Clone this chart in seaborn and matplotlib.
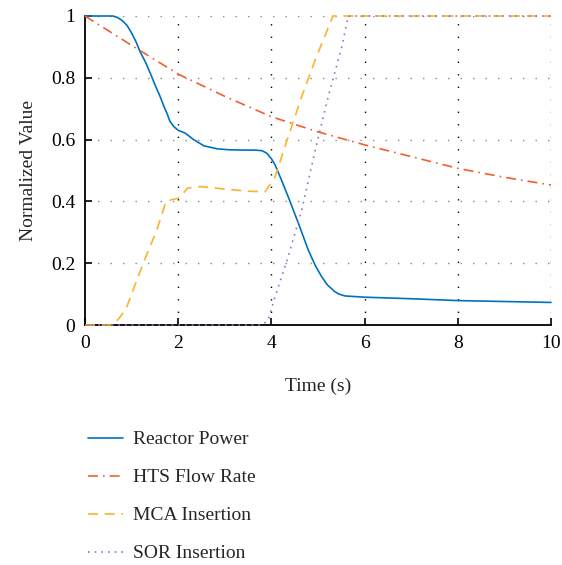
import numpy as np
import pandas as pd
import matplotlib
matplotlib.use('Agg')
import matplotlib.pyplot as plt
import seaborn as sns

# Data
power_t = [0, 0.6, 0.7, 0.8, 0.9, 1.0, 1.1, 1.18, 1.3, 1.4, 1.5, 1.61, 1.7, 1.76, 1.82, 1.9, 2.0,
           2.15, 2.33, 2.55, 2.84, 3.1, 3.4, 3.65, 3.8, 3.9, 4.0, 4.08, 4.2, 4.36, 4.58, 4.79,
           4.95, 5.08, 5.2, 5.36, 5.45, 5.58, 6.0, 7.0, 8.0, 9.0, 10.0]
power_v = [1.0, 1.0, 0.995, 0.985, 0.97, 0.945, 0.915, 0.885, 0.85, 0.815, 0.778, 0.74, 0.705,
           0.685, 0.66, 0.643, 0.63, 0.621, 0.60, 0.58, 0.57, 0.567, 0.566, 0.566, 0.564, 0.556,
           0.538, 0.518, 0.475, 0.415, 0.329, 0.243, 0.19, 0.156, 0.13, 0.108, 0.1, 0.094,
           0.09, 0.085, 0.079, 0.076, 0.073]

hts_t = [0, 1, 2, 3, 4, 5, 6, 7, 8, 9, 10]
hts_v = [1.0, 0.905, 0.812, 0.74, 0.674, 0.625, 0.583, 0.545, 0.507, 0.478, 0.453]

mca_t = [0, 0.55, 0.65, 0.75, 0.9, 1.25, 1.54, 1.74, 1.85, 2.0, 2.1, 2.2, 2.47, 3.0, 3.5,
         3.86, 3.95, 4.08, 4.36, 4.65, 4.94, 5.32, 6, 8, 10]
mca_v = [0, 0, 0.008, 0.025, 0.06, 0.2, 0.307, 0.40, 0.405, 0.41, 0.425, 0.443, 0.448, 0.44,
         0.433, 0.431, 0.45, 0.48, 0.609, 0.739, 0.858, 1.0, 1.0, 1.0, 1.0]

sor_t = [0, 3.8, 3.93, 4.08, 4.36, 4.65, 4.94, 5.22, 5.51, 5.65, 6, 8, 10]
sor_v = [0, 0, 0.016, 0.092, 0.221, 0.372, 0.566, 0.739, 0.90, 1.0, 1.0, 1.0, 1.0]

series_names = ['Reactor Power', 'HTS Flow Rate', 'MCA Insertion', 'SOR Insertion']

frames = []
for name, t, v in zip(series_names, [power_t, hts_t, mca_t, sor_t], [power_v, hts_v, mca_v, sor_v]):
    frames.append(pd.DataFrame({'Time': t, 'Value': v, 'Series': name}))
df = pd.concat(frames, ignore_index=True)

sns.set_style('white')
plt.rcParams['font.family'] = ['Liberation Serif', 'DejaVu Serif']
plt.rcParams['font.size'] = 14

palette = {
    'Reactor Power': '#0072BD',
    'HTS Flow Rate': '#F0602C',
    'MCA Insertion': '#FDB12E',
    'SOR Insertion': '#A070C4',
}
dashes = {
    'Reactor Power': '',
    'HTS Flow Rate': (6, 3, 1, 3),
    'MCA Insertion': (6, 4),
    'SOR Insertion': (1, 3),
}

fig = plt.figure(figsize=(5.62, 5.65), dpi=100)
ax = fig.add_axes([85 / 562, 1 - 325 / 565, 466 / 562, 309 / 565])

sns.lineplot(data=df, x='Time', y='Value', hue='Series', style='Series',
             hue_order=series_names, style_order=series_names,
             palette=palette, dashes=dashes, linewidth=1.2, ax=ax, sort=False)
# let the lines sit on top of the spines, as in the original
for line in ax.get_lines():
    line.set_clip_on(False)
    line.set_zorder(3)

ax.set_xlim(0, 10)
ax.set_ylim(0, 1)
ax.set_xticks([0, 2, 4, 6, 8, 10])
ax.set_yticks([0, 0.2, 0.4, 0.6, 0.8, 1])
ax.set_yticklabels(['0', '0.2', '0.4', '0.6', '0.8', '1'])
ax.set_xlabel('Time (s)', fontsize=14, labelpad=19)
ax.set_ylabel('Normalized Value', fontsize=14, labelpad=10)

# dotted grid: black verticals, gray horizontals
ax.grid(False)
for xv in [2, 4, 6, 8, 10]:
    ax.axvline(xv, color='black', linestyle=(0, (1, 8)), linewidth=1.0, zorder=0)
for yv in [0.2, 0.4, 0.6, 0.8, 1.0]:
    ax.axhline(yv, color='#888888', linestyle=(0, (1, 8)), linewidth=1.0, zorder=0)

sns.despine(ax=ax)
for side in ['left', 'bottom']:
    ax.spines[side].set_color('black')
    ax.spines[side].set_linewidth(1.3)
ax.tick_params(direction='in', length=5, width=1.2, colors='black', labelsize=14,
               left=True, bottom=True, pad=7)

handles, labels = ax.get_legend_handles_labels()
ax.get_legend().remove()
fig.legend(handles, labels, loc='upper left', bbox_to_anchor=(78 / 562, 1 - 421 / 565),
           frameon=False, fontsize=14, handlelength=1.8, handletextpad=0.55,
           labelspacing=1.05, borderpad=0)

fig.savefig('out.png', dpi=100)
